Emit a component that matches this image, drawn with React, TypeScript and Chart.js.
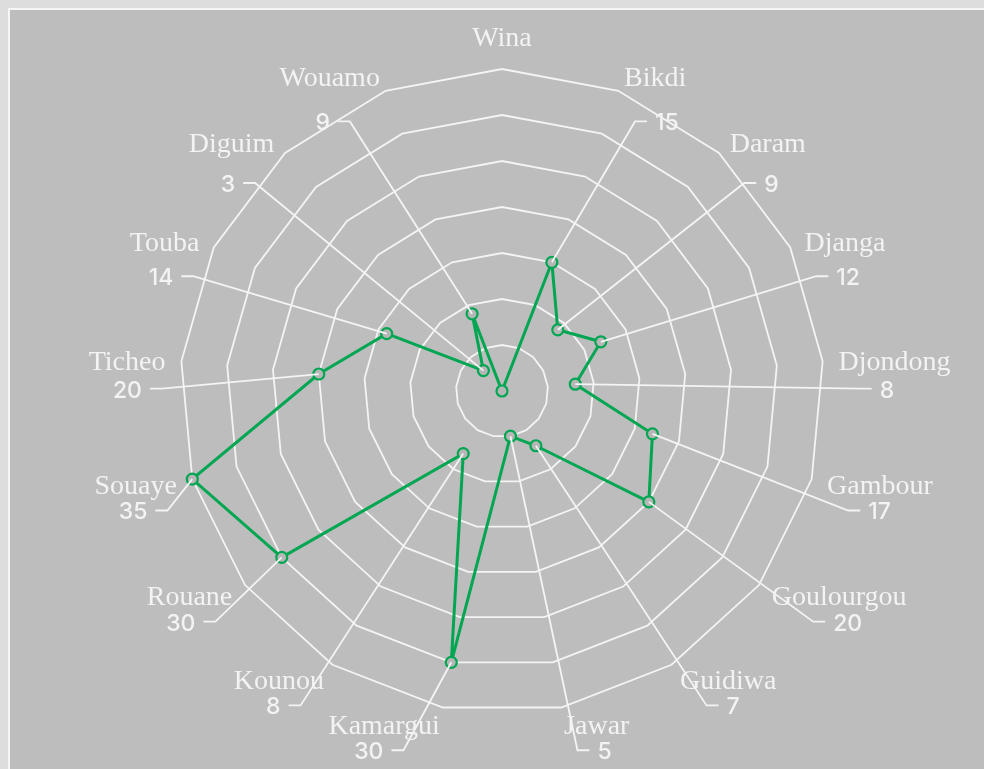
import React, { useEffect, useRef } from "react";
import { Chart, registerables } from "chart.js";

Chart.register(...registerables);

const categories: string[] = [
  "Wina", "Bikdi", "Daram", "Djanga", "Djondong", "Gambour", "Goulourgou", "Guidiwa",
  "Jawar", "Kamargui", "Kounou", "Rouane", "Souaye", "Ticheo", "Touba", "Diguim", "Wouamo",
];
const values: number[] = [0, 15, 9, 12, 8, 17, 20, 7, 5, 30, 8, 30, 35, 20, 14, 3, 9];
const scaleMin = 0;
const scaleMax = 35;
const scaleStep = 5;

const NAME_FONT = '28px "Liberation Serif"';
const VALUE_FONT = '500 23px Inter';
const TEXT_COLOR = "#f3f3f3";
const LINE_WHITE = "#f4f4f4";
const GREEN = "#00a651";

const radarLabelPlugin = {
  id: "radarLabels",
  afterDatasetsDraw(chart: any) {
    const scale = chart.scales.r;
    const ctx: CanvasRenderingContext2D = chart.ctx;
    const meta = chart.getDatasetMeta(0);
    const R = scale.drawingArea;
    ctx.save();
    for (let i = 0; i < categories.length; i++) {
      const ang = scale.getIndexAngle(i);
      const s = Math.sin(ang);
      const c = Math.cos(ang);
      const p = scale.getPointPosition(i, R + 16);
      const side = Math.abs(s) < 0.05 ? 0 : s > 0 ? 1 : -1;

      ctx.font = NAME_FONT;
      const nameW = ctx.measureText(categories[i]).width;
      const nameCenter = p.x + (side * nameW) / 2;

      // value label + leader
      const v = values[i];
      if (v > 0 && side !== 0) {
        const dy = 28 + 20 * Math.max(0, c);
        const vx = nameCenter - side * (16.5 - 17.5 * Math.abs(c));
        const vy = p.y + dy;
        const el = meta.data[i];
        const ex = vx - side * 20;
        const tx = vx - side * 8;
        ctx.strokeStyle = LINE_WHITE;
        ctx.lineWidth = 1.8;
        ctx.beginPath();
        ctx.moveTo(el.x, el.y);
        ctx.lineTo(ex, vy - 1);
        ctx.lineTo(tx, vy - 1);
        ctx.stroke();
        ctx.font = VALUE_FONT;
        ctx.fillStyle = TEXT_COLOR;
        ctx.textAlign = side > 0 ? "left" : "right";
        ctx.textBaseline = "middle";
        ctx.fillText(String(v), vx, vy + 1);
      }

      // category name
      ctx.font = NAME_FONT;
      ctx.fillStyle = TEXT_COLOR;
      ctx.textAlign = side === 0 ? "center" : side > 0 ? "left" : "right";
      if (side === 0 && c > 0) {
        ctx.textBaseline = "alphabetic";
        ctx.fillText(categories[i], p.x, p.y - 7);
      } else {
        ctx.textBaseline = "middle";
        ctx.fillText(categories[i], p.x, p.y + 3);
      }
    }
    ctx.restore();
  },
};

export default function App() {
  const canvasRef = useRef<HTMLCanvasElement | null>(null);

  useEffect(() => {
    document.body.style.background = "#dddddd";
    document.documentElement.style.overflow = "hidden";
    const canvas = canvasRef.current;
    if (!canvas) return;
    const chart = new Chart(canvas, {
      type: "radar",
      data: {
        labels: categories,
        datasets: [
          {
            data: values,
            borderColor: GREEN,
            borderWidth: 3,
            fill: false,
            pointRadius: 5.5,
            pointBorderWidth: 2.2,
            pointBorderColor: GREEN,
            pointBackgroundColor: "#b6b6b6",
            tension: 0,
          },
        ],
      },
      options: {
        responsive: false,
        animation: false,
        layout: { padding: { left: 170, right: 186, top: 59, bottom: 77 } },
        plugins: { legend: { display: false }, tooltip: { enabled: false } },
        scales: {
          r: {
            min: scaleMin,
            max: scaleMax,
            ticks: { display: false, stepSize: scaleStep },
            angleLines: { display: false },
            grid: { color: LINE_WHITE, lineWidth: 1.8 },
            pointLabels: { display: false },
          },
        },
      },
      plugins: [radarLabelPlugin],
    });
    return () => chart.destroy();
  }, []);

  return (
    <div
      style={{
        position: "fixed",
        left: 8,
        top: 8,
        width: 1000,
        height: 780,
        border: "2px solid #f6f6f6",
        background: "#bdbdbd",
      }}
    >
      <canvas ref={canvasRef} width={1000} height={780} style={{ display: "block", width: 1000, height: 780 }} />
    </div>
  );
}
